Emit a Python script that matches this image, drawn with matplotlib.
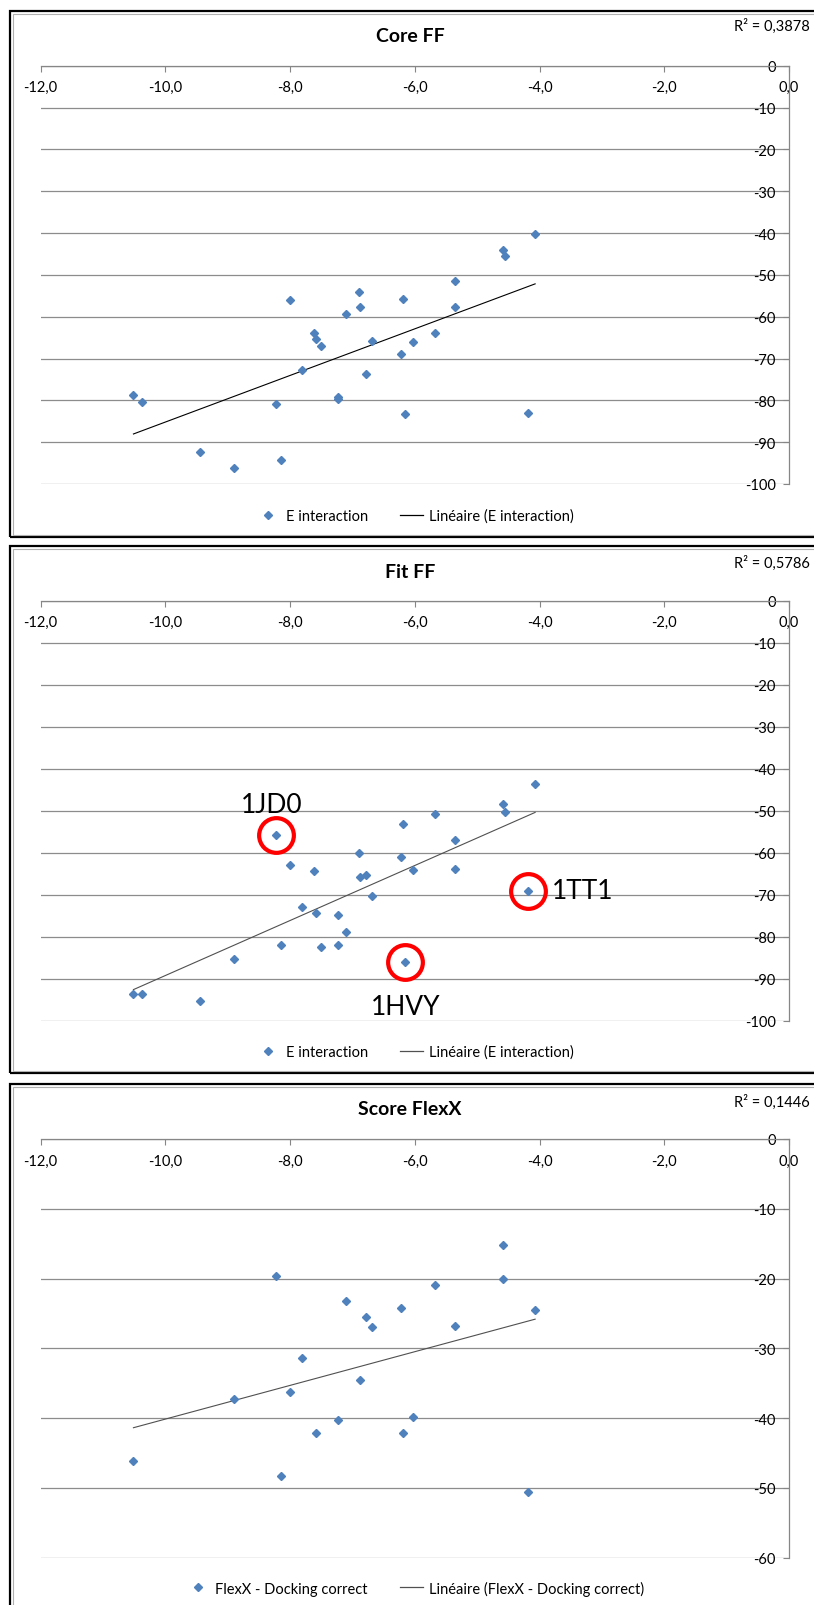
import matplotlib
matplotlib.use("Agg")
import matplotlib.pyplot as plt
import numpy as np
from matplotlib.lines import Line2D
from matplotlib.patches import Rectangle
from matplotlib.ticker import MultipleLocator

plt.rcParams["font.family"] = ["Lato", "DejaVu Sans"]

# x values shared by Core FF and Fit FF
x_ff = [-10.51, -10.38, -9.45, -8.90, -8.23, -8.15, -8.00, -7.81, -7.61, -7.59,
        -7.51, -7.23, -7.23, -7.11, -6.89, -6.87, -6.78, -6.68, -6.22, -6.19,
        -6.16, -6.03, -5.68, -5.35, -5.35, -4.58, -4.56, -4.18, -4.07]
core_ff = [-78.7, -80.4, -92.3, -96.1, -80.9, -94.2, -55.9, -72.7, -63.8, -65.3,
           -67.0, -79.1, -79.6, -59.4, -54.1, -57.6, -73.6, -65.8, -68.9, -55.8,
           -83.2, -66.1, -64.0, -51.4, -57.6, -44.0, -45.6, -83.1, -40.3]
fit_ff = [-93.6, -93.6, -95.3, -85.4, -55.8, -81.9, -62.9, -73.0, -64.4, -74.4,
          -82.4, -74.9, -82.0, -78.9, -60.1, -65.9, -65.4, -70.4, -61.0, -53.1,
          -86.0, -64.1, -50.7, -56.9, -63.9, -48.4, -50.2, -69.0, -43.7]

x_flexx = [-10.51, -8.90, -8.23, -8.15, -8.00, -7.81, -7.59, -7.23, -7.11, -6.87,
           -6.78, -6.68, -6.22, -6.19, -6.03, -5.68, -5.35, -4.58, -4.58, -4.18, -4.07]
flexx = [-46.2, -37.2, -19.7, -48.3, -36.2, -31.4, -42.1, -40.3, -23.2, -34.6,
         -25.5, -26.9, -24.2, -42.1, -39.8, -20.9, -26.8, -15.2, -20.0, -50.6, -24.5]

titles = ["Core FF", "Fit FF", "Score FlexX"]
r2_labels = ["R² = 0,3878", "R² = 0,5786", "R² = 0,1446"]
series_names = ["E interaction", "E interaction", "FlexX - Docking correct"]
y_mins = [-100, -100, -60]

# outliers circled on the Fit FF panel (index into x_ff / fit_ff)
outlier_names = ["1JD0", "1HVY", "1TT1"]
outlier_idx = [4, 20, 27]

W, H = 814, 1606
BLUE = "#4F81BD"
AXIS = "#868686"


def fx(px):
    return px / W


def fy(py):
    return 1 - py / H


def draw_box(fig, x0, y0, x1, y1):
    fig.add_artist(Rectangle((fx(x0), fy(y1)), fx(x1) - fx(x0), fy(y0) - fy(y1),
                             transform=fig.transFigure, fill=False, ec="black", lw=1.6))
    fig.add_artist(Rectangle((fx(x0 + 2.5), fy(y1 - 2.5)), fx(x1 - x0 - 5), fy(y0 + 2.5) - fy(y1 - 2.5),
                             transform=fig.transFigure, fill=False, ec="#b0b0b0", lw=0.8))


def draw_panel(fig, top, bottom, x, y, i, trend_color):
    ax = fig.add_axes([fx(40.5), fy(bottom), fx(789) - fx(40.5), fy(top) - fy(bottom)])
    ax.set_facecolor("none")
    ax.set_xlim(-12, 0)
    ax.set_ylim(y_mins[i], 0)

    ax.plot(x, y, ls="none", marker="D", ms=4.0, color=BLUE, mec=BLUE, zorder=3)
    k, b = np.polyfit(x, y, 1)
    xs = np.array([min(x), max(x)])
    ax.plot(xs, k * xs + b, color=trend_color, lw=0.8, zorder=2)

    for s in ["left", "bottom"]:
        ax.spines[s].set_visible(False)
    for s in ["top", "right"]:
        ax.spines[s].set_color(AXIS)
        ax.spines[s].set_linewidth(0.9)

    xt = np.arange(-12, 0.1, 2)
    ax.set_xticks(xt)
    ax.set_xticklabels([f"{v:.1f}".replace(".", ",") for v in xt], va="top")
    ax.xaxis.set_ticks_position("top")
    ax.tick_params(axis="x", direction="in", length=4, color=AXIS, labelsize=10.5,
                   labeltop=True, labelbottom=False, pad=-10.5)

    yt = np.arange(y_mins[i], 0.1, 10)
    ax.set_yticks(yt)
    ax.set_yticklabels([f"{int(v)}" for v in yt], ha="right")
    ax.yaxis.set_ticks_position("right")
    ax.tick_params(axis="y", direction="in", length=4, color=AXIS, labelsize=10.5,
                   labelright=True, labelleft=False, pad=-9.5)

    ax.grid(axis="y", color="#8c8c8c", lw=0.9)
    ax.set_axisbelow(True)
    return ax


def main():
    fig = plt.figure(figsize=(W / 100, H / 100), dpi=100)

    boxes = [(10, 12, 822, 538), (10, 547, 822, 1074), (10, 1085, 822, 1620)]
    for bx in boxes:
        draw_box(fig, *bx)

    panels = [(66.7, 485.0, x_ff, core_ff, "black"),
              (601.7, 1021.7, x_ff, fit_ff, "#505050"),
              (1140.0, 1558.7, x_flexx, flexx, "#505050")]
    title_y = [37, 573, 1110]
    r2_y = [26, 563, 1102]
    legend_y = [517, 1053, 1589]

    axes = []
    for i, (top, bottom, x, y, tc) in enumerate(panels):
        ax = draw_panel(fig, top, bottom, x, y, i, tc)
        axes.append(ax)
        fig.text(fx(410), fy(title_y[i]), titles[i], ha="center", va="center",
                 fontsize=14, fontweight="bold")
        fig.text(fx(810), fy(r2_y[i]), r2_labels[i], ha="right", va="center", fontsize=10.5)
        handles = [Line2D([], [], ls="none", marker="D", ms=4.0, color=BLUE),
                   Line2D([], [], color=tc, lw=0.9)]
        labels = [series_names[i], f"Linéaire ({series_names[i]})"]
        fig.legend(handles, labels, loc="center", bbox_to_anchor=(fx(415), fy(legend_y[i])),
                   ncol=2, frameon=False, fontsize=10.5, handlelength=1.6,
                   handletextpad=0.4, columnspacing=2.2)

    # red circles + names on the Fit FF outliers
    ax = axes[1]
    offsets = [((-3, 13), "center", "bottom"), ((1, -23), "center", "top"), ((17, 0), "left", "center")]
    for name, idx, (off, ha, va) in zip(outlier_names, outlier_idx, offsets):
        px, py = x_ff[idx], fit_ff[idx]
        ax.plot(px, py, ls="none", marker="o", ms=25, mfc="none", mec="#ff0000", mew=3, zorder=4)
        ax.annotate(name, (px, py), xytext=off, textcoords="offset points",
                    ha=ha, va=va, fontsize=19)

    fig.savefig("out.png", dpi=100)


if __name__ == "__main__":
    main()
